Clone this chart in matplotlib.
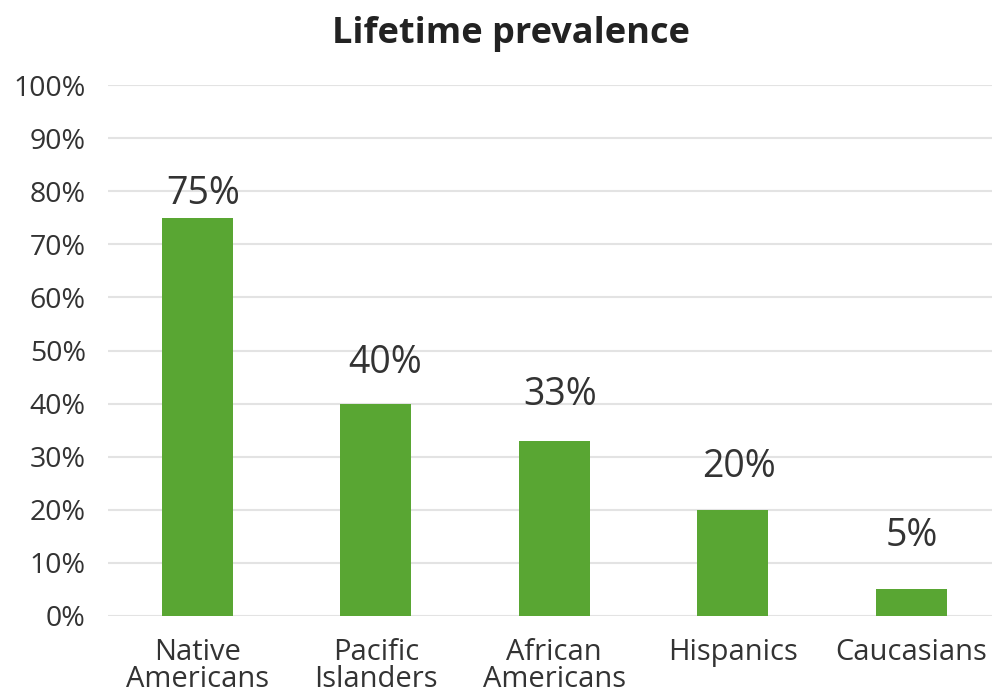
import matplotlib.pyplot as plt
import numpy as np

plt.rcParams['font.family'] = ['Open Sans', 'DejaVu Sans']

categories = ['Native\nAmericans', 'Pacific\nIslanders', 'African\nAmericans', 'Hispanics', 'Caucasians']
values = [75, 40, 33, 20, 5]
yticks = [0, 10, 20, 30, 40, 50, 60, 70, 80, 90, 100]
title = 'Lifetime prevalence'

# label nudges (points) as placed in the original
label_dx = [4.3, 6.5, 4.0, 4.3, 0.7]
label_dy = [10, 22.3, 26, 23.8, 31]

bar_color = '#59a633'
text_color = '#333333'

fig = plt.figure(figsize=(9.92, 6.94), dpi=100)
ax = fig.add_axes([108 / 992, 78 / 694, 892.5 / 992, 531 / 694])

x = np.arange(len(categories))
bars = ax.bar(x, values, width=0.4, color=bar_color, zorder=3)

for b, v, dx, dy in zip(bars, values, label_dx, label_dy):
    ax.annotate(f'{v}%', (b.get_x() + b.get_width() / 2, v),
                xytext=(dx, dy), textcoords='offset points',
                ha='center', va='baseline', fontsize=27, color=text_color)

ax.set_xlim(-0.5, len(categories) - 0.5)
ax.set_ylim(0, 100)
ax.set_yticks(yticks)
ax.set_yticklabels([f'{t}%' for t in yticks])
ax.set_xticks(x)
ax.set_xticklabels(categories, linespacing=0.9)

ax.yaxis.grid(True, color='#e3e3e3', linewidth=1.5, zorder=0)
ax.set_axisbelow(True)
for s in ax.spines.values():
    s.set_visible(False)
ax.tick_params(axis='both', length=0, colors=text_color)
ax.tick_params(axis='y', pad=16, labelsize=20.5)
ax.tick_params(axis='x', pad=16, labelsize=21)

fig.text(511 / 992, 651 / 694, title, ha='center', va='baseline',
         fontsize=26, fontweight='bold', color='#222222')

fig.savefig('out.png', dpi=100)
